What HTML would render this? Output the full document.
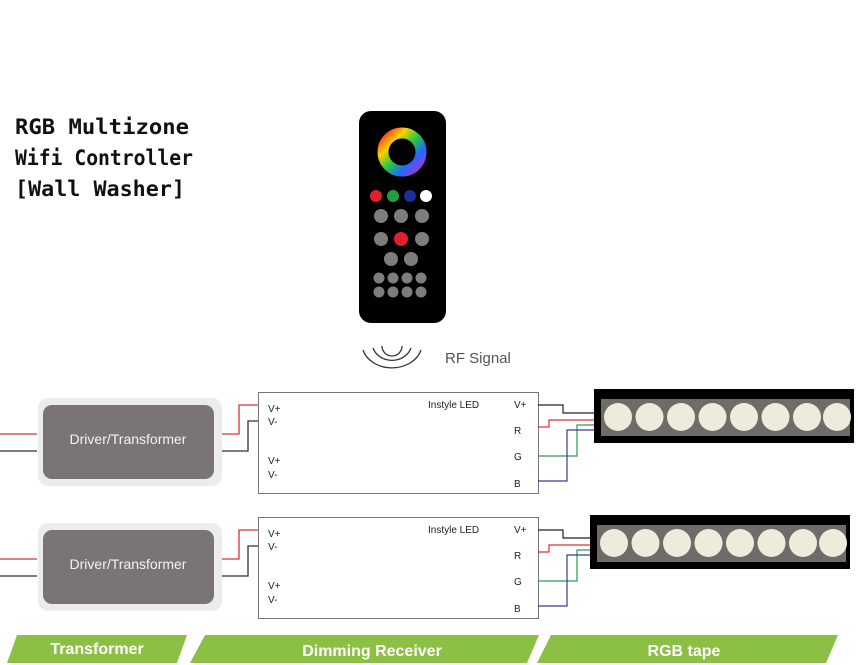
<!DOCTYPE html>
<html><head><meta charset="utf-8"><style>
html,body{margin:0;padding:0;background:#fff;}
svg{display:block;font-family:"Liberation Sans",sans-serif;}
</style></head><body>
<svg width="858" height="665" viewBox="0 0 858 665" xmlns="http://www.w3.org/2000/svg">
<defs>
<linearGradient id="hue" x1="0" y1="0" x2="1" y2="1">
<stop offset="0" stop-color="#ff2a2a"/><stop offset="0.25" stop-color="#ffd200"/><stop offset="0.5" stop-color="#27c840"/><stop offset="0.75" stop-color="#1e6cff"/><stop offset="1" stop-color="#c028d0"/>
</linearGradient>
<g id="row">
  <rect x="38" y="398" width="184" height="88" rx="10" fill="#ececec"/>
  <rect x="43" y="405" width="171" height="74" rx="9" fill="#7a7475"/>
  <text x="128" y="444" font-size="14" fill="#f2f2f2" text-anchor="middle">Driver/Transformer</text>
  <polyline points="0,434 37,434" fill="none" stroke="#d9303a" stroke-width="1.3"/>
  <polyline points="0,451 37,451" fill="none" stroke="#333" stroke-width="1.3"/>
  <polyline points="222,434 239,434 239,405 258,405" fill="none" stroke="#d9303a" stroke-width="1.3"/>
  <polyline points="222,451 248,451 248,421 258,421" fill="none" stroke="#333" stroke-width="1.3"/>
  <rect x="258.5" y="392.5" width="280" height="101" fill="#fff" stroke="#777" stroke-width="1"/>
  <g font-size="10" fill="#222">
   <text x="268" y="412">V+</text><text x="268" y="425">V-</text>
   <text x="268" y="464">V+</text><text x="268" y="478">V-</text>
   <text x="428" y="408">Instyle LED</text>
   <text x="514" y="408">V+</text><text x="514" y="434">R</text>
   <text x="514" y="460">G</text><text x="514" y="487">B</text>
  </g>
  <polyline points="538,405 563,405 563,413 600,413" fill="none" stroke="#222" stroke-width="1.2"/>
  <polyline points="538,427 549,427 549,420 600,420" fill="none" stroke="#d9303a" stroke-width="1.2"/>
  <polyline points="538,456 577,456 577,425 600,425" fill="none" stroke="#2e9a4e" stroke-width="1.2"/>
  <polyline points="538,481 567,481 567,430 600,430" fill="none" stroke="#3b3b8c" stroke-width="1.2"/>
</g>
<g id="strip">
  <rect x="594" y="389" width="260" height="54" fill="#000"/>
  <rect x="601" y="399" width="249" height="37" fill="#6e6b68"/>
  <g fill="#eeebdc">
   <circle cx="618" cy="417" r="14"/><circle cx="649.5" cy="417" r="14"/><circle cx="681" cy="417" r="14"/><circle cx="712.5" cy="417" r="14"/>
   <circle cx="744" cy="417" r="14"/><circle cx="775.5" cy="417" r="14"/><circle cx="807" cy="417" r="14"/><circle cx="837" cy="417" r="14"/>
  </g>
</g>
</defs>
<g font-size="21" font-weight="bold" font-family="'DejaVu Sans Mono','Liberation Mono',monospace" fill="#111">
<text x="15" y="134" textLength="174" lengthAdjust="spacingAndGlyphs">RGB Multizone</text>
<text x="15" y="165" textLength="178" lengthAdjust="spacingAndGlyphs">Wifi Controller</text>
<text x="15" y="196" textLength="170" lengthAdjust="spacingAndGlyphs">[Wall Washer]</text>
</g>
<!-- remote -->
<rect x="359" y="111" width="87" height="212" rx="12" fill="#000"/>
<circle cx="402" cy="152" r="19" fill="none" stroke="url(#hue)" stroke-width="11"/>
<g fill="#7d7d7d">
<circle cx="376" cy="196" r="6" fill="#e0202a"/><circle cx="393" cy="196" r="6" fill="#1ea040"/><circle cx="410" cy="196" r="6" fill="#1f2e9a"/><circle cx="426" cy="196" r="6" fill="#fff"/>
<circle cx="381" cy="216" r="7"/><circle cx="401" cy="216" r="7"/><circle cx="422" cy="216" r="7"/>
<circle cx="381" cy="239" r="7"/><circle cx="401" cy="239" r="7" fill="#e0202a"/><circle cx="422" cy="239" r="7"/>
<circle cx="391" cy="259" r="7"/><circle cx="411" cy="259" r="7"/>
<circle cx="379" cy="278" r="5.5"/><circle cx="393" cy="278" r="5.5"/><circle cx="407" cy="278" r="5.5"/><circle cx="421" cy="278" r="5.5"/>
<circle cx="379" cy="292" r="5.5"/><circle cx="393" cy="292" r="5.5"/><circle cx="407" cy="292" r="5.5"/><circle cx="421" cy="292" r="5.5"/>
</g>
<!-- RF -->
<g fill="none" stroke="#333" stroke-width="1.3">
<path d="M382,346 A10,10 0 0 0 402,346"/>
<path d="M373,348 A20,18 0 0 0 411,348"/>
<path d="M363,350 A30,24 0 0 0 421,350"/>
</g>
<text x="445" y="363" font-size="15" fill="#555">RF Signal</text>
<use href="#row"/>
<use href="#strip"/>
<use href="#row" transform="translate(0,125)"/>
<use href="#strip" transform="translate(-4,126)"/>
<!-- banners -->
<g fill="#8cc045">
<polygon points="17,635 187,635 177,663 7,663"/>
<polygon points="205,635 539,635 527,663 190,663"/>
<polygon points="551,635 838,635 826,663 537,663"/>
</g>
<g fill="#fff" font-weight="bold" font-size="16" text-anchor="middle">
<text x="97" y="654">Transformer</text>
<text x="372" y="656">Dimming Receiver</text>
<text x="684" y="656">RGB tape</text>
</g>
</svg>
</body></html>
